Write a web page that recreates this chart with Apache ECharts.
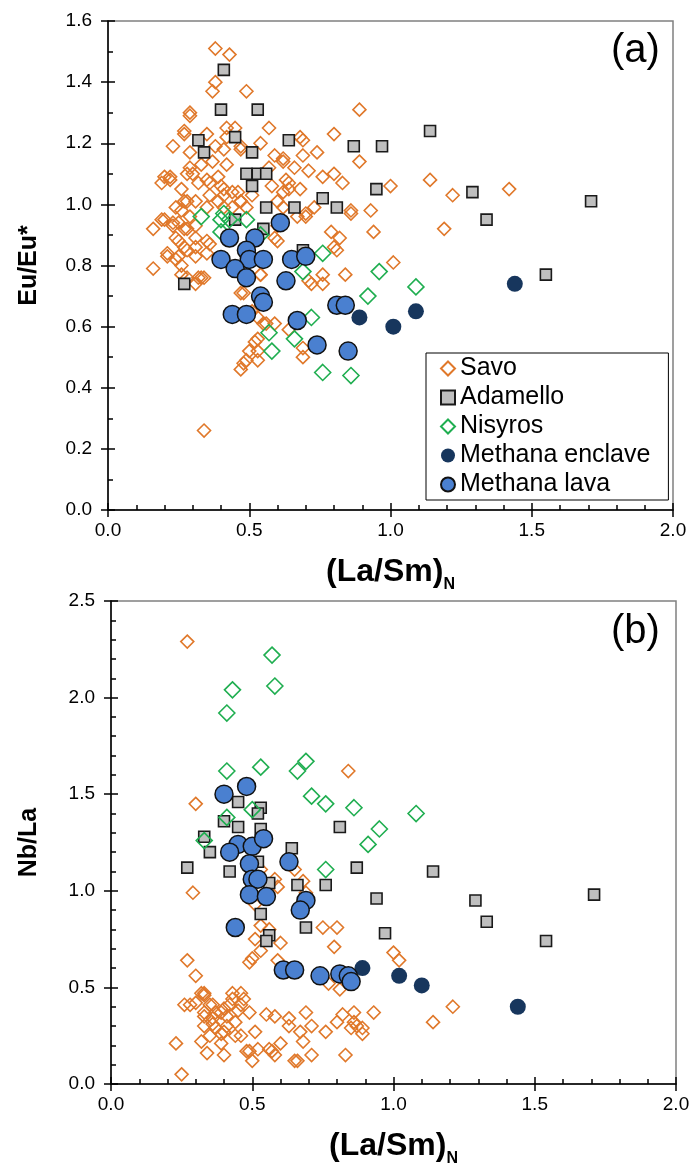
<!DOCTYPE html>
<html>
<head>
<meta charset="utf-8">
<title>Eu/Eu* and Nb/La vs (La/Sm)N</title>
<script src="https://cdn.jsdelivr.net/npm/echarts@6.0.0/dist/echarts.min.js"></script>
<style>
  html, body { margin: 0; padding: 0; background: #fff; }
  #main { width: 696px; height: 1168px; }
</style>
</head>
<body>
<div id="main"></div>
<script>
// axis ranges
var xMin = 0, xMax = 2.0, xStep = 0.5;
var yMinA = 0, yMaxA = 1.6, yStepA = 0.2;
var yMinB = 0, yMaxB = 2.5, yStepB = 0.5;

// panel (a): [(La/Sm)N, Eu/Eu*]
var savoA = [
  [0.38,1.51],[0.43,1.49],[0.38,1.40],[0.37,1.37],[0.49,1.37],[0.29,1.30],[0.29,1.29],[0.57,1.25],[0.27,1.24],[0.35,1.23],
  [0.42,1.25],[0.45,1.25],[0.68,1.22],[0.80,1.23],[0.89,1.31],[0.23,1.19],[0.29,1.17],[0.38,1.19],[0.41,1.18],[0.47,1.18],
  [0.37,1.14],[0.42,1.13],[0.29,1.12],[0.33,1.13],[0.59,1.16],[0.62,1.15],[0.69,1.16],[0.66,1.12],[0.71,1.11],[0.89,1.14],
  [0.19,1.07],[0.22,1.08],[0.26,1.05],[0.30,1.10],[0.32,1.07],[0.36,1.07],[0.39,1.09],[0.41,1.05],[0.46,1.04],[0.58,1.06],
  [0.64,1.07],[0.68,1.05],[0.76,1.09],[0.80,1.10],[0.83,1.07],[1.00,1.06],[0.16,0.92],[0.19,0.95],[0.23,0.94],[0.24,0.89],
  [0.26,0.98],[0.28,1.01],[0.31,1.01],[0.29,0.96],[0.27,0.92],[0.31,0.93],[0.35,0.99],[0.39,1.01],[0.44,0.99],[0.47,1.01],
  [0.51,1.03],[0.62,1.04],[0.62,0.99],[0.70,0.96],[0.73,0.99],[0.86,0.97],[0.93,0.98],[0.94,0.91],[0.79,0.91],[0.82,0.89],
  [0.81,0.85],[0.16,0.79],[0.21,0.84],[0.24,0.82],[0.28,0.85],[0.31,0.83],[0.35,0.88],[0.26,0.80],[1.01,0.81],[0.21,0.83],
  [0.26,0.77],[0.32,0.76],[0.31,0.74],[0.28,0.76],[0.48,0.71],[0.54,0.77],[0.51,0.65],[0.53,0.63],[0.55,0.61],[0.59,0.61],
  [0.64,0.59],[0.53,0.56],[0.50,0.52],[0.53,0.52],[0.49,0.49],[0.53,0.49],[0.47,0.46],[0.69,0.53],[0.69,0.50],[0.71,0.75],
  [0.76,0.74],[0.84,0.77],[0.34,0.26],[1.14,1.08],[1.22,1.03],[1.42,1.05],[1.19,0.92],[0.27,1.23],[0.20,1.09],[0.22,1.09],
  [0.28,1.10],[0.35,1.08],[0.40,1.06],[0.41,1.03],[0.36,1.03],[0.27,1.01],[0.24,0.99],[0.20,0.95],[0.23,0.93],[0.25,0.94],
  [0.28,0.92],[0.31,0.89],[0.25,0.88],[0.25,0.83],[0.27,0.86],[0.31,0.86],[0.36,0.87],[0.35,0.84],[0.33,0.76],[0.47,0.71],
  [0.42,1.22],[0.47,1.19],[0.54,1.20],[0.57,1.12],[0.62,1.14],[0.69,1.21],[0.74,1.17],[0.64,1.05],[0.63,1.08],[0.60,1.01],
  [0.44,1.04],[0.47,1.01],[0.49,0.99],[0.41,0.99],[0.60,0.93],[0.70,0.97],[0.76,0.77],[0.72,0.74],[0.60,0.88],[0.86,0.98],
  [0.80,0.86],[0.59,0.89],[0.67,0.96],[0.54,0.77],[0.34,0.76],[0.56,0.61],[0.52,0.55],[0.48,0.48]
];
var adamelloA = [
  [0.41,1.44],[0.40,1.31],[0.53,1.31],[0.32,1.21],[0.45,1.22],[0.34,1.17],[0.64,1.21],[0.51,1.17],[0.87,1.19],[0.97,1.19],
  [0.49,1.10],[0.53,1.10],[0.56,1.10],[0.51,1.06],[0.95,1.05],[0.56,0.99],[0.66,0.99],[0.76,1.02],[0.81,0.99],[0.45,0.95],
  [0.55,0.92],[0.69,0.85],[1.14,1.24],[1.29,1.04],[1.34,0.95],[1.71,1.01],[1.55,0.77],[0.27,0.74]
];
var nisyrosA = [
  [0.33,0.96],[0.41,0.97],[0.40,0.95],[0.43,0.95],[0.49,0.95],[0.40,0.91],[0.54,0.90],[0.76,0.84],[0.69,0.78],[0.96,0.78],
  [0.92,0.70],[0.72,0.63],[0.57,0.58],[0.58,0.52],[0.66,0.56],[0.76,0.45],[0.86,0.44],[1.09,0.73]
];
var enclaveA = [[0.89,0.63],[1.01,0.60],[1.09,0.65],[1.44,0.74]];
var lavaA = [
  [0.61,0.94],[0.43,0.89],[0.52,0.89],[0.49,0.85],[0.40,0.82],[0.50,0.82],[0.55,0.82],[0.65,0.82],[0.70,0.83],[0.45,0.79],
  [0.49,0.76],[0.63,0.75],[0.54,0.70],[0.55,0.68],[0.44,0.64],[0.49,0.64],[0.67,0.62],[0.81,0.67],[0.84,0.67],[0.74,0.54],
  [0.85,0.52]
];

// panel (b): [(La/Sm)N, Nb/La]
var savoB = [
  [0.27,2.29],[0.84,1.62],[0.30,1.45],[0.29,0.99],[0.75,0.81],[0.80,0.81],[0.79,0.71],[0.58,1.06],[0.59,1.02],[0.65,1.11],
  [0.53,1.11],[0.68,1.05],[0.69,0.99],[0.51,0.93],[0.53,0.82],[0.56,0.80],[0.60,0.73],[0.51,0.75],[0.53,0.69],[0.50,0.65],
  [0.49,0.63],[0.59,0.64],[0.81,0.49],[0.77,0.52],[0.27,0.64],[0.30,0.56],[1.00,0.68],[1.02,0.64],[0.33,0.47],[0.33,0.46],
  [0.28,0.41],[0.30,0.42],[0.35,0.41],[0.37,0.37],[0.43,0.47],[0.46,0.47],[0.47,0.44],[0.46,0.41],[0.42,0.41],[0.40,0.39],
  [0.49,0.37],[0.33,0.35],[0.36,0.34],[0.41,0.35],[0.44,0.32],[0.33,0.30],[0.37,0.29],[0.35,0.25],[0.40,0.27],[0.46,0.25],
  [0.51,0.27],[0.32,0.22],[0.39,0.21],[0.34,0.16],[0.40,0.15],[0.23,0.21],[0.25,0.05],[0.48,0.17],[0.50,0.12],[0.52,0.18],
  [0.56,0.18],[0.60,0.21],[0.58,0.15],[0.58,0.35],[0.63,0.34],[0.63,0.30],[0.67,0.27],[0.68,0.22],[0.69,0.37],[0.71,0.30],
  [0.66,0.12],[0.71,0.15],[0.76,0.27],[0.80,0.32],[0.82,0.36],[0.86,0.37],[0.87,0.30],[0.89,0.29],[0.89,0.26],[0.93,0.37],
  [0.83,0.15],[1.21,0.40],[1.14,0.32],[0.85,0.29],[0.32,0.47],[0.36,0.41],[0.33,0.37],[0.39,0.37],[0.45,0.38],[0.36,0.31],
  [0.41,0.30],[0.39,0.26],[0.44,0.25],[0.49,0.17],[0.57,0.17],[0.65,0.12],[0.86,0.32],[0.26,0.41],[0.43,0.44],[0.55,0.36]
];
var adamelloB = [
  [0.45,1.46],[0.53,1.43],[0.52,1.40],[0.40,1.36],[0.45,1.33],[0.53,1.32],[0.33,1.28],[0.35,1.20],[0.27,1.12],[0.42,1.10],
  [0.64,1.22],[0.81,1.33],[0.87,1.12],[0.52,1.15],[0.56,1.04],[0.66,1.03],[0.76,1.03],[0.94,0.96],[0.53,0.88],[0.69,0.81],
  [0.56,0.77],[0.55,0.74],[1.14,1.10],[1.29,0.95],[1.33,0.84],[1.71,0.98],[1.54,0.74],[0.97,0.78]
];
var nisyrosB = [
  [0.57,2.22],[0.58,2.06],[0.43,2.04],[0.41,1.92],[0.41,1.62],[0.53,1.64],[0.66,1.62],[0.69,1.67],[0.71,1.49],[0.76,1.45],
  [0.86,1.43],[0.50,1.42],[0.41,1.38],[1.08,1.40],[0.95,1.32],[0.91,1.24],[0.76,1.11],[0.33,1.26]
];
var enclaveB = [[0.89,0.60],[1.02,0.56],[1.10,0.51],[1.44,0.40]];
var lavaB = [
  [0.40,1.50],[0.48,1.54],[0.45,1.24],[0.42,1.20],[0.50,1.23],[0.54,1.27],[0.49,1.14],[0.63,1.15],[0.50,1.06],[0.52,1.06],
  [0.49,0.98],[0.55,0.97],[0.69,0.95],[0.67,0.90],[0.44,0.81],[0.61,0.59],[0.65,0.59],[0.74,0.56],[0.81,0.57],[0.84,0.56],
  [0.85,0.53]
];

var names = ['Savo', 'Adamello', 'Nisyros', 'Methana enclave', 'Methana lava'];
var font = 'Liberation Sans, Arial, sans-serif';

var styles = {
  'Savo': {symbol: 'diamond', symbolSize: 13, itemStyle: {color: 'rgba(255,255,255,0)', borderColor: '#e0782a', borderWidth: 1.6, opacity: 1}},
  'Adamello': {symbol: 'rect', symbolSize: 11, itemStyle: {color: '#bfbfbf', borderColor: '#1a1a1a', borderWidth: 1.6, opacity: 1}},
  'Nisyros': {symbol: 'diamond', symbolSize: 16, itemStyle: {color: 'rgba(255,255,255,0)', borderColor: '#1fae50', borderWidth: 1.6, opacity: 1}},
  'Methana enclave': {symbol: 'circle', symbolSize: 16, itemStyle: {color: '#17365d', opacity: 1}},
  'Methana lava': {symbol: 'circle', symbolSize: 18, itemStyle: {color: '#4a80d0', borderColor: '#111', borderWidth: 1.5, opacity: 1}}
};

function fmt(v) { return v.toFixed(1); }

// main axis: line, outward ticks, labels; inner axis: inward ticks + minor ticks
function xMain(gi, name) {
  return {
    type: 'value', gridIndex: gi, position: 'bottom', min: xMin, max: xMax, interval: xStep,
    axisLine: {onZero: false, lineStyle: {color: '#000', width: 1.5}},
    axisTick: {inside: false, length: 7, lineStyle: {color: '#000', width: 1.5}},
    splitLine: {show: false},
    axisLabel: {color: '#000', fontSize: 19, fontFamily: font, margin: 11, formatter: fmt},
    name: name, nameLocation: 'middle', nameGap: 46,
    nameTextStyle: {color: '#000', fontFamily: font, rich: {
      m: {fontSize: 32, fontWeight: 'bold', fontFamily: font, color: '#000', padding: [0, 0, 5, 0]},
      s: {fontSize: 16, fontWeight: 'bold', fontFamily: font, color: '#000', verticalAlign: 'bottom'}
    }}
  };
}
function xInner(gi) {
  return {
    type: 'value', gridIndex: gi, position: 'bottom', min: xMin, max: xMax, interval: xStep,
    axisLine: {show: false},
    axisTick: {inside: true, length: 7, lineStyle: {color: '#000', width: 1.5}},
    minorTick: {show: true, splitNumber: 5, length: 5, lineStyle: {color: '#000', width: 1.5}},
    splitLine: {show: false}, axisLabel: {show: false}
  };
}
function yMain(gi, min, max, step, name, gap) {
  return {
    type: 'value', gridIndex: gi, position: 'left', min: min, max: max, interval: step,
    axisLine: {onZero: false, lineStyle: {color: '#000', width: 1.5}},
    axisTick: {inside: false, length: 7, lineStyle: {color: '#000', width: 1.5}},
    splitLine: {show: false},
    axisLabel: {color: '#000', fontSize: 19, fontFamily: font, margin: 16, formatter: fmt},
    name: name, nameLocation: 'middle', nameGap: gap,
    nameTextStyle: {color: '#000', fontSize: 25, fontWeight: 'bold', fontFamily: font}
  };
}
function yInner(gi, min, max, step, minor) {
  return {
    type: 'value', gridIndex: gi, position: 'left', min: min, max: max, interval: step,
    axisLine: {show: false},
    axisTick: {inside: true, length: 7, lineStyle: {color: '#000', width: 1.5}},
    minorTick: {show: true, splitNumber: minor, length: 5, lineStyle: {color: '#000', width: 1.5}},
    splitLine: {show: false}, axisLabel: {show: false}
  };
}

function makeSeries(name, data, axisIdx) {
  var st = styles[name];
  return {
    name: name, type: 'scatter', data: data,
    xAxisIndex: axisIdx, yAxisIndex: axisIdx,
    symbol: st.symbol, symbolSize: st.symbolSize, itemStyle: st.itemStyle,
    emphasis: {disabled: true}, silent: true
  };
}

var chart = echarts.init(document.getElementById('main'), null, {renderer: 'canvas'});
var option = {
  backgroundColor: '#fff',
  animation: false,
  grid: [
    {left: 108, top: 21, width: 565, height: 489, show: true, borderColor: '#808080', borderWidth: 1.5, backgroundColor: 'transparent'},
    {left: 111, top: 601, width: 565, height: 488, show: true, borderColor: '#808080', borderWidth: 1.5, backgroundColor: 'transparent'}
  ],
  xAxis: [xMain(0, '{m|(La/Sm)}{s|N}'), xInner(0), xMain(1, '{m|(La/Sm)}{s|N}'), xInner(1)],
  yAxis: [
    yMain(0, yMinA, yMaxA, yStepA, 'Eu/Eu*', 66), yInner(0, yMinA, yMaxA, yStepA, 2),
    yMain(1, yMinB, yMaxB, yStepB, 'Nb/La', 69), yInner(1, yMinB, yMaxB, yStepB, 5)
  ],
  legend: {
    data: names, orient: 'vertical', left: 426, top: 353,
    backgroundColor: '#fff', borderColor: '#000', borderWidth: 1,
    padding: [3, 18, 3, 14], itemGap: 4, itemWidth: 14, itemHeight: 14,
    textStyle: {color: '#000', fontSize: 25, fontFamily: font, lineHeight: 24},
    selectedMode: false
  },
  graphic: [
    {type: 'text', left: 611, top: 31, style: {text: '(a)', font: '40px Liberation Sans, Arial, sans-serif', fill: '#000'}},
    {type: 'text', left: 611, top: 612, style: {text: '(b)', font: '40px Liberation Sans, Arial, sans-serif', fill: '#000'}}
  ],
  series: []
};

var setsA = [savoA, adamelloA, nisyrosA, enclaveA, lavaA];
var setsB = [savoB, adamelloB, nisyrosB, enclaveB, lavaB];
for (var i = 0; i < names.length; i++) {
  option.series.push(makeSeries(names[i], setsA[i], 0));
}
for (var j = 0; j < names.length; j++) {
  option.series.push(makeSeries(names[j], setsB[j], 2));
}

chart.setOption(option);
</script>
</body>
</html>
